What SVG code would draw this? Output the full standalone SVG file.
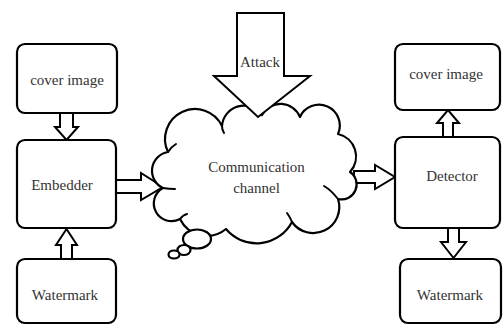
<svg xmlns="http://www.w3.org/2000/svg" width="503" height="325" viewBox="0 0 503 325">
  <style>
    .box { fill: #ffffff; stroke: #000000; stroke-width: 2.2; }
    .arrow { fill: #ffffff; stroke: #000000; stroke-width: 2; stroke-linejoin: miter; }
    .cloud { fill: #ffffff; stroke: #000000; stroke-width: 2.2; stroke-linejoin: round; }
    .mark { fill: none; stroke: #000000; stroke-width: 2; stroke-linecap: round; }
  </style>
  <rect width="503" height="325" fill="#ffffff"/>

  <!-- connectors: block arrows -->
  <g id="connectors">
    <!-- cover image -> embedder -->
    <polygon class="arrow" points="60,113 73,113 73,127 78,127 66.5,140 55,127 60,127"/>
    <!-- watermark -> embedder -->
    <polygon class="arrow" points="61,259 72,259 72,245 77,245 66.5,229 56,245 61,245"/>
    <!-- embedder -> channel -->
    <polygon class="arrow" points="115,180 141,180 141,173 163,187 141,200 141,193 115,193"/>
    <!-- channel -> detector -->
    <polygon class="arrow" points="354,171 375,171 375,165 395,177 375,189 375,183 354,183"/>
    <!-- detector -> cover image -->
    <polygon class="arrow" points="443,137 453,137 453,123 459,123 448,110 437,123 443,123"/>
    <!-- detector -> watermark -->
    <polygon class="arrow" points="448,228 459,228 459,242 466,242 453.5,258 441,242 448,242"/>
  </g>

  <g font-family="Liberation Serif" font-size="15" fill="#333333" text-anchor="middle">
    <!-- communication channel cloud -->
    <g id="channel">
      <path class="cloud" d="M168,152
        A28,28 0 0 1 222,126
        A22,22 0 0 1 262,115
        A21,21 0 0 1 300,117
        A20,20 0 0 1 338,134
        A23,23 0 0 1 350,172
        A15,15 0 0 1 338,199
        A26,26 0 0 1 292,222
        A40,40 0 0 1 226,229
        A30,30 0 0 1 180,219
        A17,17 0 0 1 163,188
        A19,19 0 0 1 168,152 Z"/>
      <!-- inner folds -->
      <path class="mark" d="M163,188 Q169,189 175,189"/>
      <path class="mark" d="M180,219 Q183,215 187,214"/>
      <path class="mark" d="M338,199 Q331,190 324,186"/>
      <path class="mark" d="M292,222 Q290,217 287,213"/>
      <path class="mark" d="M168,152 Q171,147 176,144"/>
      <path class="mark" d="M222,126 Q222,130 224,133"/>
      <ellipse class="cloud" cx="197" cy="239" rx="14" ry="9.5"/>
      <ellipse class="cloud" cx="184" cy="250" rx="6.5" ry="5"/>
      <ellipse class="cloud" cx="174" cy="254.5" rx="5.5" ry="4"/>
      <text x="256.5" y="172">Communication</text>
      <text x="256.5" y="193">channel</text>
    </g>

    <!-- attack -->
    <g id="attack">
      <polygon class="arrow" points="237,13 284,13 284,76 310,76 258,117 214,76 237,76"/>
      <text x="260" y="67">Attack</text>
    </g>

    <g id="cover-image-in">
      <rect class="box" x="17" y="44" width="100" height="69" rx="8"/>
      <text x="67" y="85">cover image</text>
    </g>
    <g id="embedder">
      <rect class="box" x="17" y="140" width="99" height="88" rx="8"/>
      <text x="62" y="190">Embedder</text>
    </g>
    <g id="watermark-in">
      <rect class="box" x="17" y="259" width="99" height="64" rx="8"/>
      <text x="65" y="300">Watermark</text>
    </g>

    <g id="cover-image-out">
      <rect class="box" x="395" y="44" width="105" height="66" rx="8"/>
      <text x="446" y="79">cover image</text>
    </g>
    <g id="detector">
      <rect class="box" x="395" y="137" width="105" height="91" rx="8"/>
      <text x="452" y="181">Detector</text>
    </g>
    <g id="watermark-out">
      <rect class="box" x="400" y="259" width="101" height="64" rx="8"/>
      <text x="450" y="300">Watermark</text>
    </g>
  </g>
</svg>
